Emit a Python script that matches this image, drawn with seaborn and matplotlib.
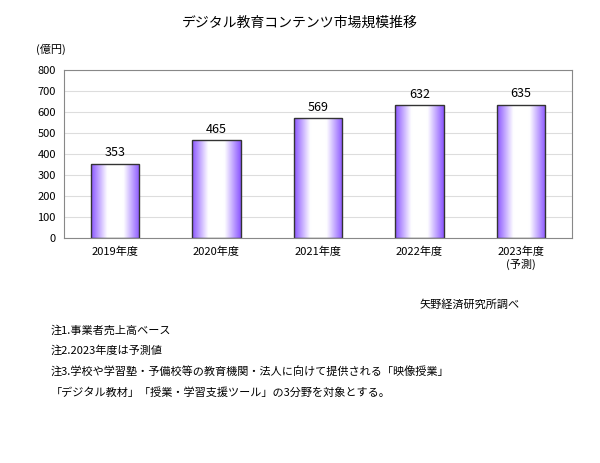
import matplotlib
matplotlib.use("Agg")
import matplotlib.pyplot as plt
import seaborn as sns
import numpy as np
import pandas as pd
from matplotlib.colors import LinearSegmentedColormap

plt.rcParams["font.family"] = "Noto Sans CJK JP"

categories = ["2019年度", "2020年度", "2021年度", "2022年度", "2023年度\n(予測)"]
values = [353, 465, 569, 632, 635]
yticks = [0, 100, 200, 300, 400, 500, 600, 700, 800]

df = pd.DataFrame({"cat": categories, "val": values})

fig = plt.figure(figsize=(6, 4.63), dpi=100)
ax = fig.add_axes([0.107, 0.486, 0.846, 0.363])
sns.barplot(data=df, x="cat", y="val", ax=ax, color="#9966ff", width=0.48,
            edgecolor="#333333", linewidth=1.0, zorder=2)
ax.set_ylim(0, 800)
ax.set_yticks(yticks)
ax.set_xlim(-0.5, len(categories) - 0.5)
ax.grid(axis="y", color="#dddddd", linewidth=0.8, zorder=0)
ax.set_axisbelow(True)
for s in ax.spines.values():
    s.set_color("#888888"); s.set_linewidth(0.8)
ax.tick_params(axis="both", labelsize=8, length=0, pad=6)
ax.set_xlabel(""); ax.set_ylabel("")

cmap = LinearSegmentedColormap.from_list("g", ["#8a55ff", "#ffffff", "#ffffff", "#8a55ff"])
grad = np.linspace(0, 1, 256).reshape(1, -1)
for p, v in zip(ax.patches, values):
    x0, w, h = p.get_x(), p.get_width(), p.get_height()
    p.set_facecolor("none")
    im = ax.imshow(grad, cmap=cmap, aspect="auto", extent=[x0, x0 + w, 0, h],
                   zorder=1.9, interpolation="bicubic")
    im.set_clip_path(p)
    ax.text(x0 + w / 2, h + 22, str(v), ha="center", va="bottom", fontsize=9)
ax.set_xlim(-0.5, len(categories) - 0.5)
ax.set_ylim(0, 800)

fig.text(0.5, 0.942, "デジタル教育コンテンツ市場規模推移", ha="center", fontsize=10)
fig.text(0.06, 0.885, "(億円)", fontsize=8)
fig.text(0.7, 0.335, "矢野経済研究所調べ", fontsize=8)
notes = ["注1.事業者売上高ベース", "注2.2023年度は予測値",
         "注3.学校や学習塾・予備校等の教育機関・法人に向けて提供される「映像授業」",
         "「デジタル教材」「授業・学習支援ツール」の3分野を対象とする。"]
for i, n in enumerate(notes):
    fig.text(0.085, 0.28 - i * 0.045, n, fontsize=8)
fig.savefig("out.png", dpi=100)
